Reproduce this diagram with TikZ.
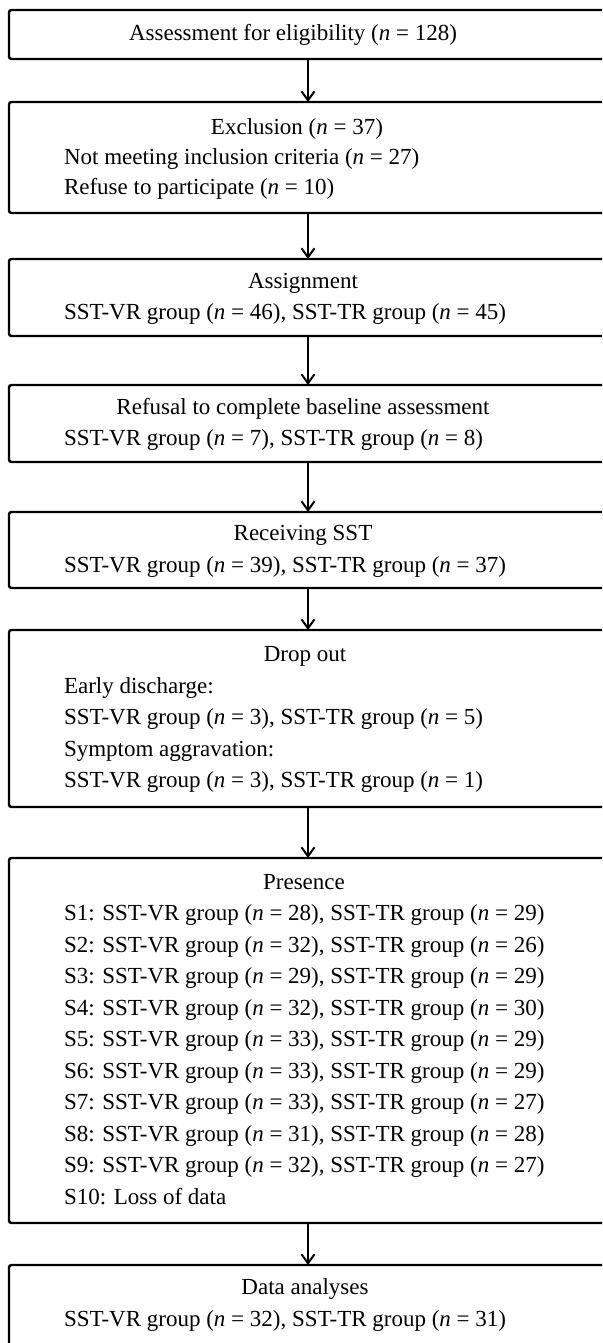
\documentclass[tikz,border=0pt]{standalone}
\usepackage{fontspec}
\setmainfont{Liberation Serif}
\usetikzlibrary{arrows.meta}
\newcommand{\nn}{\textit{n}}
\begin{document}
\begin{tikzpicture}[x=0.5pt,y=-0.5pt,
  box/.style={draw, line width=1.2pt, rounded corners=1.2pt, minimum width=299pt,
    inner sep=0pt, outer sep=0pt, anchor=north west},
  txt/.style={inner sep=0pt, outer sep=0pt, anchor=base west,
    font=\fontsize{11.5pt}{13pt}\selectfont},
  head/.style={txt, anchor=base},
  arr/.style={line width=0.8pt, -{Straight Barb[length=4.5pt,width=6.5pt,line width=1pt]}}
]
\useasboundingbox (0,0) rectangle (602,1343);
\clip (0,0) rectangle (602,1343);
\fill[white] (0,0) rectangle (602,1343);

% boxes
\node[box, minimum height=24.5pt] (b1) at (9,10) {};
\node[box, minimum height=55.5pt] (b2) at (9,102) {};
\node[box, minimum height=38.5pt] (b3) at (9,259) {};
\node[box, minimum height=38.5pt] (b4) at (9,385) {};
\node[box, minimum height=38pt] (b5) at (9,512) {};
\node[box, minimum height=88.5pt] (b6) at (9,630) {};
\node[box, minimum height=182.5pt] (b7) at (9,858) {};
\node[box, minimum height=41pt] (b8) at (9,1265) {};

% arrows
\draw[arr] (b1.south) -- (b2.north);
\draw[arr] (b2.south) -- (b3.north);
\draw[arr] (b3.south) -- (b4.north);
\draw[arr] (b4.south) -- (b5.north);
\draw[arr] (b5.south) -- (b6.north);
\draw[arr] (b6.south) -- (b7.north);
\draw[arr] (b7.south) -- (b8.north);

% box 1
\node[head] (t1) at (293,40.5) {Assessment for eligibility (\nn{} = 128)};
% box 2
\node[head] (t2a) at (297,134) {Exclusion (\nn{} = 37)};
\node[txt] (t2b) at (64,164.5) {Not meeting inclusion criteria (\nn{} = 27)};
\node[txt] (t2c) at (64,194) {Refuse to participate (\nn{} = 10)};
% box 3
\node[head] (t3a) at (303,288) {Assignment};
\node[txt] (t3b) at (64,319.5) {SST-VR group (\nn{} = 46), SST-TR group (\nn{} = 45)};
% box 4
\node[head] (t4a) at (303,414) {Refusal to complete baseline assessment};
\node[txt] (t4b) at (64,445.5) {SST-VR group (\nn{} = 7), SST-TR group (\nn{} = 8)};
% box 5
\node[head] (t5a) at (303,540.5) {Receiving SST};
\node[txt] (t5b) at (64,572) {SST-VR group (\nn{} = 39), SST-TR group (\nn{} = 37)};
% box 6
\node[head] (t6a) at (305,661.5) {Drop out};
\node[txt] (t6b) at (64,693) {Early discharge:};
\node[txt] (t6c) at (64,724.5) {SST-VR group (\nn{} = 3), SST-TR group (\nn{} = 5)};
\node[txt] (t6d) at (64,756) {Symptom aggravation:};
\node[txt] (t6e) at (64,787.5) {SST-VR group (\nn{} = 3), SST-TR group (\nn{} = 1)};
% box 7
\node[head] (t7a) at (304,889) {Presence};
\node[txt] (t7b) at (64,920.5) {S1: SST-VR group (\nn{} = 28), SST-TR group (\nn{} = 29)};
\node[txt] (t7c) at (64,952) {S2: SST-VR group (\nn{} = 32), SST-TR group (\nn{} = 26)};
\node[txt] (t7d) at (64,983.5) {S3: SST-VR group (\nn{} = 29), SST-TR group (\nn{} = 29)};
\node[txt] (t7e) at (64,1015) {S4: SST-VR group (\nn{} = 32), SST-TR group (\nn{} = 30)};
\node[txt] (t7f) at (64,1046.5) {S5: SST-VR group (\nn{} = 33), SST-TR group (\nn{} = 29)};
\node[txt] (t7g) at (64,1078) {S6: SST-VR group (\nn{} = 33), SST-TR group (\nn{} = 29)};
\node[txt] (t7h) at (64,1109.5) {S7: SST-VR group (\nn{} = 33), SST-TR group (\nn{} = 27)};
\node[txt] (t7i) at (64,1141) {S8: SST-VR group (\nn{} = 31), SST-TR group (\nn{} = 28)};
\node[txt] (t7j) at (64,1172.5) {S9: SST-VR group (\nn{} = 32), SST-TR group (\nn{} = 27)};
\node[txt] (t7k) at (64,1204) {S10: Loss of data};
% box 8
\node[head] (t8a) at (305,1294.5) {Data analyses};
\node[txt] (t8b) at (64,1326) {SST-VR group (\nn{} = 32), SST-TR group (\nn{} = 31)};
\end{tikzpicture}
\end{document}
